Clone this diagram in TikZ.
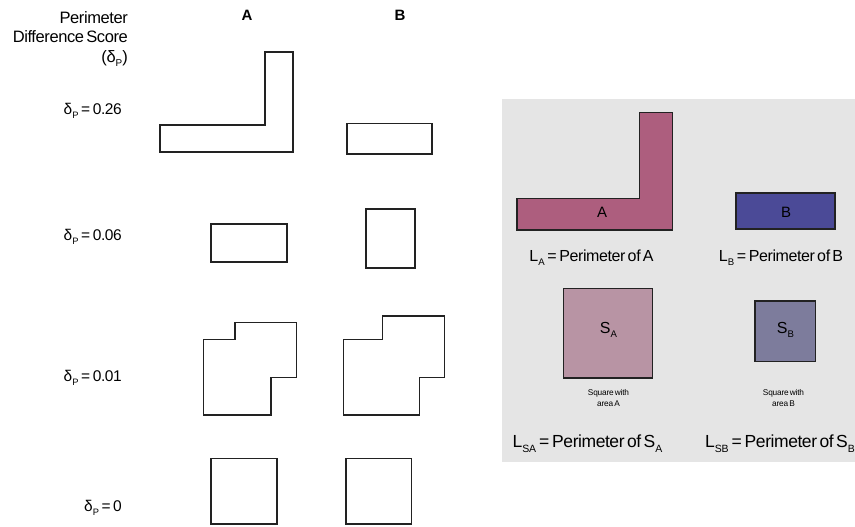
\documentclass[tikz,border=0pt]{standalone}
\usepackage{fontspec}
\setmainfont{Liberation Sans}[LetterSpace=-2.5,WordSpace=0.55]
\newcommand{\lowsub}[1]{\raisebox{-0.5ex}{\fontsize{0.6em}{0.7em}\selectfont #1}}
\definecolor{panelgray}{HTML}{E5E5E5}
\definecolor{shapeA}{HTML}{AD5E7E}
\definecolor{shapeB}{HTML}{4B4A97}
\definecolor{squareA}{HTML}{B894A4}
\definecolor{squareB}{HTML}{7D7C9C}
\definecolor{edge}{HTML}{222222}
\tikzset{
  outline/.style={draw=edge, line width=1.15pt, line join=miter},
  rowlabel/.style={anchor=east, inner sep=0pt, font=\fontsize{15.5}{17}\selectfont},
  colhead/.style={inner sep=0pt, font=\fontsize{15}{17}\selectfont\bfseries},
  shapetext/.style={inner sep=0pt, font=\fontsize{15}{17}\selectfont},
  perim/.style={inner sep=0pt, font=\fontsize{16}{18}\selectfont},
  perimbig/.style={inner sep=0pt, font=\fontsize{17.5}{19}\selectfont},
  note/.style={inner sep=0pt, align=center, font=\fontsize{8.3}{10.5}\selectfont}
}
\begin{document}
\begin{tikzpicture}[x=1pt,y=-1pt]
\useasboundingbox (0,0) rectangle (855,527);

% column headings and score labels
\node[rowlabel, align=right, anchor=north east, font=\fontsize{16.5}{19.5}\selectfont] (title) at (128,11)
  {Perimeter\\Difference Score\\(δ\lowsub{P})};
\node[colhead] (headA) at (247,15) {A};
\node[colhead] (headB) at (400,15) {B};
\node[rowlabel] (d1) at (122,111) {δ\lowsub{P}\,=\,0.26};
\node[rowlabel] (d2) at (122,237) {δ\lowsub{P}\,=\,0.06};
\node[rowlabel] (d3) at (122,378) {δ\lowsub{P}\,=\,0.01};
\node[rowlabel] (d4) at (122,508) {δ\lowsub{P}\,=\,0};

% row 1: L-shape versus flat rectangle
\draw[outline] (160,125) -- (265,125) -- (265,52) -- (293,52) -- (293,152) -- (160,152) -- cycle;
\draw[outline] (347,123.5) rectangle (432,154);

% row 2: rectangles
\draw[outline] (211,224) rectangle (287,262);
\draw[outline] (366,209) rectangle (415,268);

% row 3: stepped shapes
\draw[outline] (203.5,339.5) -- (235,339.5) -- (235,322.5) -- (296.5,322.5) -- (296.5,377.5)
  -- (271,377.5) -- (271,415) -- (203.5,415) -- cycle;
\draw[outline] (343.5,339.5) -- (382.5,339.5) -- (382.5,316) -- (444.5,316) -- (444.5,377.5)
  -- (419.5,377.5) -- (419.5,415) -- (343.5,415) -- cycle;

% row 4: equal squares
\draw[outline] (211,458.5) rectangle (277,524);
\draw[outline] (346,458.5) rectangle (411.5,524);

% explanation panel
\fill[panelgray] (502,99) rectangle (855,462);
\draw[outline, fill=shapeA] (517,198.5) -- (639.5,198.5) -- (639.5,112.5) -- (672.5,112.5)
  -- (672.5,230) -- (517,230) -- cycle;
\node[shapetext] (labA) at (602,212.5) {A};
\draw[outline, fill=shapeB] (736,193) rectangle (835,229);
\node[shapetext] (labB) at (786,212) {B};
\node[perim] (LA) at (591.5,258) {L\lowsub{A}\,=\,Perimeter of A};
\node[perim] (LB) at (781,258) {L\lowsub{B}\,=\,Perimeter of B};

\draw[outline, fill=squareA] (563.5,288.5) rectangle (652.5,378);
\node[shapetext, font=\fontsize{16}{18}\selectfont] (labSA) at (608.5,330) {S\lowsub{A}};
\draw[outline, fill=squareB] (755,301) rectangle (815.5,361.5);
\node[shapetext, font=\fontsize{16}{18}\selectfont] (labSB) at (785.5,330) {S\lowsub{B}};
\node[note] (noteA) at (608.5,398) {Square with\\area A};
\node[note] (noteB) at (783.5,398) {Square with\\area B};
\node[perimbig] (LSA) at (587.5,443.5) {L\lowsub{SA}\,=\,Perimeter of S\lowsub{A}};
\node[perimbig] (LSB) at (780,443.5) {L\lowsub{SB}\,=\,Perimeter of S\lowsub{B}};
\end{tikzpicture}
\end{document}
